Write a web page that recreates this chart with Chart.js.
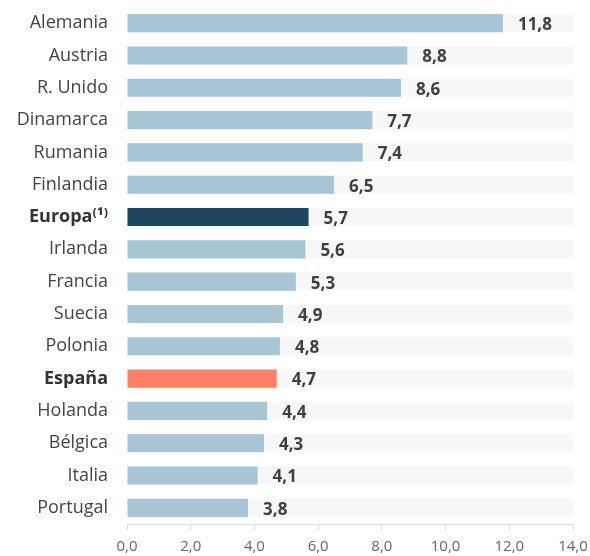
<!DOCTYPE html>
<html>
<head>
<meta charset="utf-8">
<script src="https://cdn.jsdelivr.net/npm/chart.js@4"></script>
<style>
  html, body { margin: 0; padding: 0; background: #fff; }
  #wrap { width: 590px; height: 556px; }
</style>
</head>
<body>
<div id="wrap"><canvas id="chart"></canvas></div>
<script>
const countries = ['Alemania', 'Austria', 'R. Unido', 'Dinamarca', 'Rumania', 'Finlandia', 'Europa⁽¹⁾',
  'Irlanda', 'Francia', 'Suecia', 'Polonia', 'España', 'Holanda', 'Bélgica', 'Italia', 'Portugal'];
const values = [11.8, 8.8, 8.6, 7.7, 7.4, 6.5, 5.7, 5.6, 5.3, 4.9, 4.8, 4.7, 4.4, 4.3, 4.1, 3.8];
const maxValue = 14;
const highlight = { 'Europa⁽¹⁾': '#1d4660', 'España': '#ff8066' };

const fmt = (v) => v.toFixed(1).replace('.', ',');

const valueLabels = {
  id: 'valueLabels',
  afterDatasetsDraw(chart) {
    const ctx = chart.ctx;
    const meta = chart.getDatasetMeta(0);
    ctx.save();
    ctx.font = 'bold 17px "Open Sans"';
    ctx.fillStyle = '#3f3f3f';
    ctx.textAlign = 'left';
    ctx.textBaseline = 'middle';
    meta.data.forEach((bar, i) => {
      ctx.fillText(fmt(values[i]), bar.x + 15, bar.y + 2);
    });
    ctx.restore();
  }
};

new Chart(document.getElementById('chart'), {
  type: 'bar',
  data: {
    labels: countries,
    datasets: [{
      data: values,
      backgroundColor: countries.map((c) => highlight[c] || '#a8c5d6'),
      barPercentage: 0.56,
      categoryPercentage: 1,
      order: 1
    }, {
      data: countries.map(() => maxValue),
      backgroundColor: '#f7f7f7',
      barPercentage: 0.56,
      categoryPercentage: 1,
      order: 2
    }]
  },
  options: {
    indexAxis: 'y',
    responsive: true,
    maintainAspectRatio: false,
    animation: false,
    datasets: { bar: { grouped: false } },
    layout: { padding: { top: 7, right: 17, left: 0, bottom: 0 } },
    plugins: {
      legend: { display: false },
      tooltip: { enabled: false }
    },
    scales: {
      x: {
        min: 0,
        max: 14,
        ticks: {
          stepSize: 2,
          callback: (v) => fmt(v),
          color: '#666',
          font: { family: 'Open Sans', size: 15 },
          padding: 8
        },
        grid: { drawOnChartArea: false, drawTicks: true, tickLength: 6, color: '#ddd' },
        border: { color: '#ddd' },
        afterFit: (scale) => {
          scale.height = 32;
          scale.paddingLeft = 0;
          scale.paddingRight = 0;
        }
      },
      y: {
        ticks: {
          color: (ctx) => highlight[countries[ctx.index]] ? '#333' : '#444',
          font: (ctx) => ({
            family: 'Open Sans',
            size: 18,
            weight: highlight[countries[ctx.index]] ? 'bold' : 'normal'
          }),
          padding: 11
        },
        grid: { display: false },
        border: { display: false },
        afterFit: (scale) => {
          scale.width = 127;
          scale.paddingTop = 0;
          scale.paddingBottom = 0;
        }
      }
    }
  },
  plugins: [valueLabels]
});
</script>
</body>
</html>
